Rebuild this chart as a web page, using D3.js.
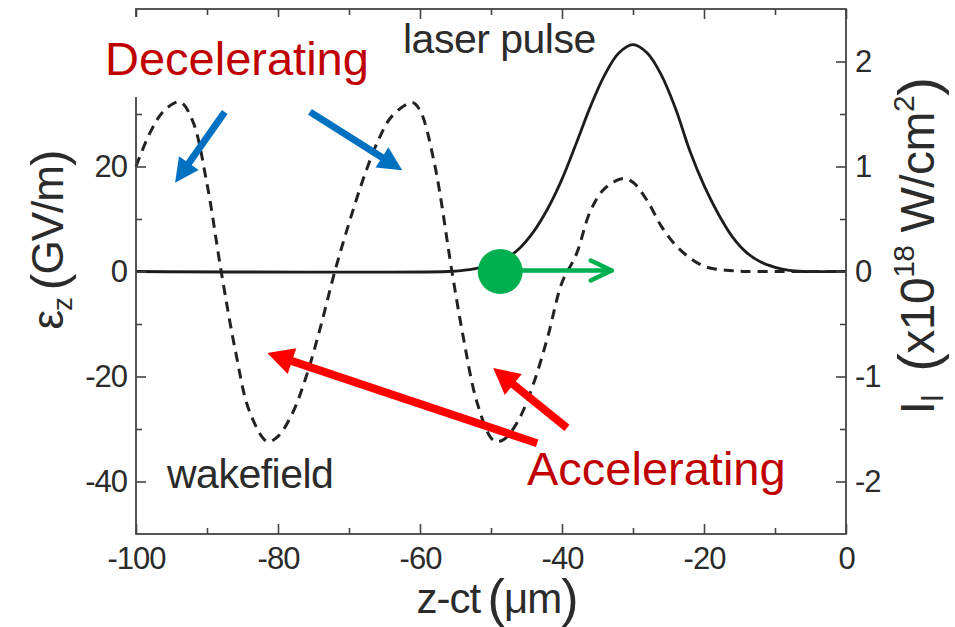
<!DOCTYPE html>
<html>
<head>
<meta charset="utf-8">
<script src="https://cdn.jsdelivr.net/npm/d3@7"></script>
<style>
  body { margin: 0; background: #fff; }
  svg text { font-family: "Liberation Sans", Arial, Helvetica, sans-serif; }
</style>
</head>
<body>
<svg id="chart" width="955" height="627"></svg>
<script>
// Wakefield (left axis, GV/m)
var wakeX = [-100, -98, -96, -93.8, -92, -90, -88, -86, -84, -81.5, -80, -78, -76, -74, -72, -70, -68, -66, -64, -61.1,
             -60, -58, -55.5, -54, -52, -50, -49.2, -48, -46, -44, -42, -40, -38, -36, -34, -31.4, -30, -28, -26, -24,
             -22, -20, -18, -16, -14, -10, 0];
var wakeE = [20, 26.5, 30.7, 32.3, 28.6, 16.7, 0, -15.1, -26.7, -32.4, -31.4, -27.1, -19.9, -10.5, 0, 9.2, 17.6, 24.6, 29.5, 32.2,
             30.7, 20.8, 0, -11.8, -24.8, -31.7, -32.4, -31.8, -28.0, -21.3, -12.4, -2.1, 3.2, 11.5, 15.8, 17.7, 17.0, 13.5, 8.6, 5.0,
             2.6, 1.0, 0.4, 0.15, 0, 0, 0];

// Laser pulse intensity (right axis, x10^18 W/cm^2)
var laserX = [-100, -56, -54, -52, -50, -48, -46, -44, -42, -40, -38, -36, -34, -32, -30, -28, -26, -24, -22, -20,
              -18, -16, -14, -12, -10, -8, -6, 0];
var laserI = [0, 0, 0.01, 0.03, 0.06, 0.12, 0.22, 0.38, 0.60, 0.88, 1.22, 1.57, 1.87, 2.08, 2.16, 2.08, 1.87, 1.55, 1.15, 0.82,
              0.55, 0.33, 0.18, 0.09, 0.04, 0.01, 0, 0];

// Ticks
var xMajor = [-100, -80, -60, -40, -20, 0];
var xMinor = [-90, -70, -50, -30, -10];
var leftMajor = [-40, -20, 0, 20, 40];
var leftMinor = [-30, -10, 10, 30];
var rightMajor = [-2, -1, 0, 1, 2];
var rightMinor = [-1.5, -0.5, 0.5, 1.5];

// Annotations, in data units (x in um, y in GV/m)
var blueArrows = [[-87.5, 30.4, -94.5, 16.9], [-75.5, 30.4, -62.5, 19.3]];
var redArrows = [[-43.5, -32.7, -81.5, -15.5], [-39.3, -29.8, -49.7, -18.4]];
var electron = [-48.7, 0];
var electronArrowTip = [-33, 0];

var svg = d3.select('#chart');
var plotL = 136, plotR = 846, plotT = 9, plotB = 534;

var x = d3.scaleLinear().domain([-100, 0]).range([plotL, plotR]);
var yL = d3.scaleLinear().domain([-50, 50]).range([plotB, plotT]);
var yR = d3.scaleLinear().domain([-2.5, 2.5]).range([plotB, plotT]);

// curves
var wakeLine = d3.line()
    .x(function(d) { return x(d[0]); })
    .y(function(d) { return yL(d[1]); })
    .curve(d3.curveCatmullRom.alpha(0.5));
var laserLine = d3.line()
    .x(function(d) { return x(d[0]); })
    .y(function(d) { return yR(d[1]); })
    .curve(d3.curveCatmullRom.alpha(0.5));

svg.append('path')
    .datum(laserX.map(function(v, i) { return [v, laserI[i]]; }))
    .attr('d', laserLine)
    .attr('fill', 'none')
    .attr('stroke', '#1c1c1c')
    .attr('stroke-width', 2.8);

svg.append('path')
    .datum(wakeX.map(function(v, i) { return [v, wakeE[i]]; }))
    .attr('d', wakeLine)
    .attr('fill', 'none')
    .attr('stroke', '#222')
    .attr('stroke-width', 3)
    .attr('stroke-dasharray', '10,7');

// axes (ticks point inward)
function styleAxis(g) {
  g.select('.domain').remove();
  g.selectAll('.tick line').attr('stroke', '#444').attr('stroke-width', 1.6);
  g.selectAll('.tick text').attr('fill', '#2b2b2b').style('font-size', '31px').attr('letter-spacing', '-1');
}
function fmt(d) { return String(d); }

svg.append('g').attr('transform', 'translate(0,' + plotB + ')')
    .call(d3.axisBottom(x).tickValues(xMajor).tickSize(-10).tickPadding(13).tickFormat(fmt)).call(styleAxis);
svg.append('g').attr('transform', 'translate(0,' + plotB + ')')
    .call(d3.axisBottom(x).tickValues(xMinor).tickSize(-6).tickFormat('')).call(styleAxis);
svg.append('g').attr('transform', 'translate(0,' + plotT + ')')
    .call(d3.axisTop(x).tickValues(xMajor).tickSize(-10).tickFormat('')).call(styleAxis);
svg.append('g').attr('transform', 'translate(0,' + plotT + ')')
    .call(d3.axisTop(x).tickValues(xMinor).tickSize(-6).tickFormat('')).call(styleAxis);
svg.append('g').attr('transform', 'translate(' + plotL + ',0)')
    .call(d3.axisLeft(yL).tickValues(leftMajor).tickSize(-10).tickPadding(9).tickFormat(fmt)).call(styleAxis);
svg.append('g').attr('transform', 'translate(' + plotL + ',0)')
    .call(d3.axisLeft(yL).tickValues(leftMinor).tickSize(-6).tickFormat('')).call(styleAxis);
svg.append('g').attr('transform', 'translate(' + plotR + ',0)')
    .call(d3.axisRight(yR).tickValues(rightMajor).tickSize(-10).tickPadding(9).tickFormat(fmt)).call(styleAxis);
svg.append('g').attr('transform', 'translate(' + plotR + ',0)')
    .call(d3.axisRight(yR).tickValues(rightMinor).tickSize(-6).tickFormat('')).call(styleAxis);

// frame
svg.append('rect')
    .attr('x', plotL).attr('y', plotT)
    .attr('width', plotR - plotL).attr('height', plotB - plotT)
    .attr('fill', 'none').attr('stroke', '#444').attr('stroke-width', 1.8);

// axis titles
var xt = svg.append('text')
    .attr('x', (plotL + plotR) / 2 + 6).attr('y', 613)
    .attr('text-anchor', 'middle').attr('fill', '#2b2b2b')
    .style('font-size', '42px').attr('letter-spacing', '-1');
xt.append('tspan').text('z-ct\u2009');
xt.append('tspan').style('font-size', '52px').attr('dy', 3).text('(');
xt.append('tspan').attr('dy', -3).text('\u03bcm');
xt.append('tspan').style('font-size', '52px').attr('dy', 3).text(')');

var lt = svg.append('text')
    .attr('transform', 'translate(63,240) rotate(-90)')
    .attr('text-anchor', 'middle').attr('fill', '#2b2b2b')
    .style('font-size', '44px').attr('letter-spacing', '-1');
lt.append('tspan').text('\u03b5');
lt.append('tspan').style('font-size', '28px').attr('dy', 9).text('z');
lt.append('tspan').attr('dy', -9).text('\u2009');
lt.append('tspan').style('font-size', '50px').attr('dy', 3).text('(');
lt.append('tspan').attr('dy', -3).text('GV/m');
lt.append('tspan').style('font-size', '50px').attr('dy', 3).text(')');

var rt = svg.append('text')
    .attr('transform', 'translate(934,246) rotate(-90)')
    .attr('text-anchor', 'middle').attr('fill', '#2b2b2b')
    .style('font-size', '48px').attr('letter-spacing', '-0.5');
rt.append('tspan').text('I');
rt.append('tspan').style('font-size', '30px').attr('dy', 9).text('l');
rt.append('tspan').attr('dy', -9).text('\u2002');
rt.append('tspan').style('font-size', '56px').attr('dy', 3).text('(');
rt.append('tspan').attr('dy', -3).text('x10');
rt.append('tspan').style('font-size', '30px').attr('dy', -20).text('18');
rt.append('tspan').attr('dy', 20).text(' W/cm');
rt.append('tspan').style('font-size', '30px').attr('dy', -20).text('2');
rt.append('tspan').style('font-size', '56px').attr('dy', 23).text(')');

// white box under "Decelerating" (hides the top of the left axis)
svg.append('rect')
    .attr('x', 94).attr('y', 17).attr('width', 288).attr('height', 80)
    .attr('fill', '#fff');

// labels
svg.append('text').attr('x', 105).attr('y', 75).attr('fill', '#c00000')
    .style('font-size', '47px').text('Decelerating');
svg.append('text').attr('x', 527).attr('y', 485).attr('fill', '#c00000')
    .style('font-size', '47px').text('Accelerating');
svg.append('text').attr('x', 403).attr('y', 53).attr('fill', '#2b2b2b')
    .style('font-size', '41px').attr('letter-spacing', '-0.5').text('laser pulse');
svg.append('text').attr('x', 167).attr('y', 488).attr('fill', '#2b2b2b')
    .style('font-size', '41px').attr('letter-spacing', '-0.5').text('wakefield');

// block arrows
function arrow(a, color, width, headLen, headW) {
  var x1 = x(a[0]), y1 = yL(a[1]), x2 = x(a[2]), y2 = yL(a[3]);
  var dx = x2 - x1, dy = y2 - y1, len = Math.sqrt(dx * dx + dy * dy);
  var ux = dx / len, uy = dy / len, nx = -uy, ny = ux;
  var bx = x2 - ux * headLen, by = y2 - uy * headLen;
  svg.append('line')
      .attr('x1', x1).attr('y1', y1)
      .attr('x2', x2 - ux * headLen * 0.7).attr('y2', y2 - uy * headLen * 0.7)
      .attr('stroke', color).attr('stroke-width', width);
  svg.append('polygon')
      .attr('points', [[x2, y2], [bx + nx * headW / 2, by + ny * headW / 2], [bx - nx * headW / 2, by - ny * headW / 2]].join(' '))
      .attr('fill', color);
}
blueArrows.forEach(function(a) { arrow(a, '#0070c0', 7, 24, 24); });
redArrows.forEach(function(a) { arrow(a, '#ff0000', 8, 26, 27); });

// electron bunch and its direction
var ex = x(electron[0]), ey = yL(electron[1]);
var tx = x(electronArrowTip[0]), ty = yL(electronArrowTip[1]);
svg.append('line')
    .attr('x1', ex).attr('y1', ey - 1).attr('x2', tx).attr('y2', ty - 1)
    .attr('stroke', '#00b050').attr('stroke-width', 4.5).attr('stroke-linecap', 'round');
svg.append('polyline')
    .attr('points', [[tx - 21, ty - 11], [tx, ty - 1], [tx - 21, ty + 9]].join(' '))
    .attr('fill', 'none').attr('stroke', '#00b050').attr('stroke-width', 4.5)
    .attr('stroke-linecap', 'round').attr('stroke-linejoin', 'round');
svg.append('circle')
    .attr('cx', ex).attr('cy', ey).attr('r', 22.5)
    .attr('fill', '#00b050');
</script>
</body>
</html>
